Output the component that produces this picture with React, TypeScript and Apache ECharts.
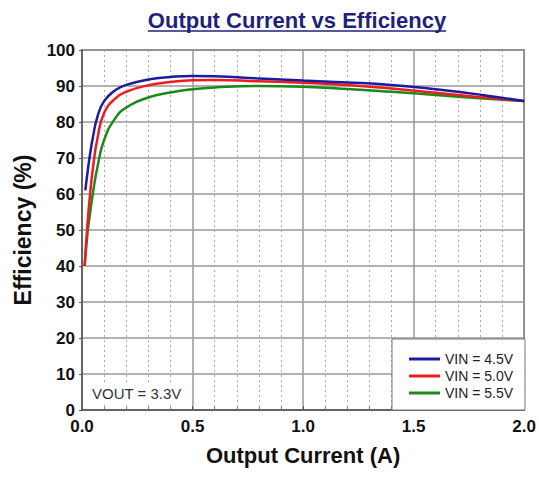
import React, { useEffect, useRef } from "react";
import * as echarts from "echarts";

const vin45X = [0.015, 0.025, 0.035, 0.05, 0.07, 0.1, 0.15, 0.2, 0.3, 0.4, 0.5, 0.6, 0.8, 1.0, 1.2, 1.4, 1.6, 1.8, 2.0];
const vin45Y = [61, 66, 70.5, 76, 81.5, 85.8, 88.8, 90.3, 91.8, 92.5, 92.8, 92.7, 92.1, 91.5, 91.0, 90.3, 89.1, 87.6, 85.8];
const vin50X = [0.012, 0.024, 0.035, 0.05, 0.07, 0.1, 0.15, 0.2, 0.3, 0.4, 0.5, 0.6, 0.8, 1.0, 1.2, 1.4, 1.6, 1.8, 2.0];
const vin50Y = [40, 51, 59, 67.5, 75.5, 82.5, 86.5, 88.4, 90.2, 91.1, 91.6, 91.7, 91.3, 90.9, 90.3, 89.3, 88.1, 86.9, 85.8];
const vin55X = [0.012, 0.024, 0.035, 0.05, 0.07, 0.1, 0.15, 0.2, 0.3, 0.4, 0.5, 0.6, 0.8, 1.0, 1.2, 1.4, 1.6, 1.8, 2.0];
const vin55Y = [40, 48.5, 54, 60.5, 67.5, 75, 81, 84, 86.8, 88.2, 89.1, 89.6, 90.0, 89.8, 89.2, 88.4, 87.5, 86.6, 85.8];

const seriesNames = ["VIN = 4.5V", "VIN = 5.0V", "VIN = 5.5V"];
const titleText = "Output Current vs Efficiency";
const xAxisName = "Output Current (A)";
const yAxisName = "Efficiency (%)";
const noteText = "VOUT = 3.3V";

const zip = (xs: number[], ys: number[]) => xs.map((x, i) => [x, ys[i]]);

export default function App() {
  const ref = useRef<HTMLDivElement>(null);
  useEffect(() => {
    document.body.style.margin = "0";
    const chart = echarts.init(ref.current!, null, { renderer: "svg" });
    const font = "Arial, 'Liberation Sans', sans-serif";
    const titleSize = 22;
    let titleW = 290;
    try {
      const ctx = document.createElement("canvas").getContext("2d");
      if (ctx) {
        ctx.font = `bold ${titleSize}px ${font}`;
        titleW = ctx.measureText(titleText).width;
      }
    } catch (e) {}
    const titleCx = 297;
    const lineSeries = (name: string, xs: number[], ys: number[], color: string) => ({
      name,
      type: "line",
      data: zip(xs, ys),
      showSymbol: false,
      smooth: 0.5,
      lineStyle: { color, width: 2.5 },
      itemStyle: { color },
    });
    chart.setOption({
      animation: false,
      backgroundColor: "#ffffff",
      grid: {
        left: 82,
        right: 14,
        top: 50,
        bottom: 67,
        show: true,
        borderColor: "#555",
        borderWidth: 1.5,
        backgroundColor: "transparent",
      },
      legend: {
        orient: "vertical",
        left: 404,
        top: 347,
        icon: "rect",
        itemWidth: 31,
        itemHeight: 3,
        itemGap: 3,
        z: 10,
        data: seriesNames,
        textStyle: { fontFamily: font, fontSize: 14, lineHeight: 14, color: "#222" },
      },
      xAxis: {
        type: "value",
        min: 0,
        max: 2,
        interval: 0.5,
        name: xAxisName,
        nameLocation: "middle",
        nameGap: 34,
        nameTextStyle: { fontFamily: font, fontSize: 22, fontWeight: "bold", color: "#111" },
        axisLine: { lineStyle: { color: "#555", width: 1.5 } },
        axisTick: { show: true, inside: true, length: 4, lineStyle: { color: "#555" } },
        minorTick: { show: true, splitNumber: 5, length: 3, lineStyle: { color: "#777" } },
        axisLabel: {
          fontFamily: font,
          fontSize: 17,
          fontWeight: "bold",
          color: "#111",
          margin: 8,
          formatter: (v: number) => v.toFixed(1),
        },
        splitLine: { show: true, lineStyle: { color: "#999", width: 1.5 } },
        minorSplitLine: { show: true, lineStyle: { color: "#aaa", type: [2, 3], width: 1 } },
      },
      yAxis: {
        type: "value",
        min: 0,
        max: 100,
        interval: 10,
        name: yAxisName,
        nameLocation: "middle",
        nameGap: 48,
        nameTextStyle: { fontFamily: font, fontSize: 23, fontWeight: "bold", color: "#111" },
        axisLine: { show: true, lineStyle: { color: "#555", width: 1.5 } },
        axisTick: { show: true, length: 3, lineStyle: { color: "#555" } },
        axisLabel: { fontFamily: font, fontSize: 17, fontWeight: "bold", color: "#111", margin: 7 },
        splitLine: { show: true, lineStyle: { color: "#999", width: 1.5 } },
      },
      graphic: [
        {
          type: "text",
          x: titleCx,
          y: 20,
          style: {
            text: titleText,
            fontFamily: font,
            fontSize: titleSize,
            fontWeight: "bold",
            fill: "#1f1f7c",
            align: "center",
            verticalAlign: "middle",
          },
        },
        {
          type: "line",
          shape: { x1: titleCx - titleW / 2, y1: 31, x2: titleCx + titleW / 2, y2: 31 },
          style: { stroke: "#1f1f7c", lineWidth: 1.5 },
        },
        {
          type: "rect",
          z: 5,
          shape: { x: 392, y: 339, width: 133, height: 71 },
          style: { fill: "#ffffff", stroke: "#777", lineWidth: 1 },
        },
        {
          type: "rect",
          z: 5,
          shape: { x: 86, y: 382, width: 104, height: 22 },
          style: { fill: "#ffffff" },
        },
        {
          type: "text",
          z: 6,
          x: 92,
          y: 393,
          style: {
            text: noteText,
            fontFamily: font,
            fontSize: 15,
            fill: "#333",
            verticalAlign: "middle",
          },
        },
      ],
      series: [
        lineSeries(seriesNames[2], vin55X, vin55Y, "#1b8a1b"),
        lineSeries(seriesNames[1], vin50X, vin50Y, "#ee1c1c"),
        lineSeries(seriesNames[0], vin45X, vin45Y, "#1c1ca0"),
      ],
    });
    return () => chart.dispose();
  }, []);
  return <div ref={ref} style={{ width: 539, height: 477 }} />;
}
